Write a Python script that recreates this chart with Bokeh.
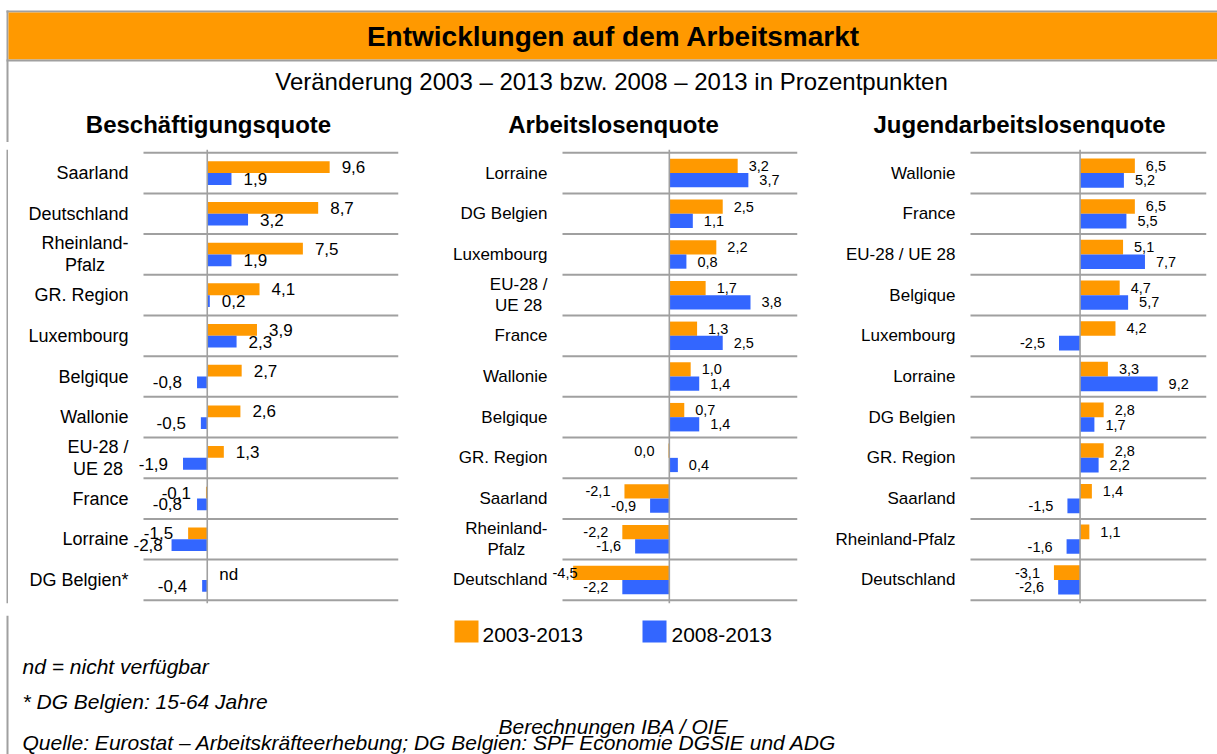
from bokeh.plotting import figure
from bokeh.layouts import row, column
from bokeh.models import Range1d, FactorRange, ColumnDataSource, Span
from bokeh.transform import dodge
from bokeh.core.properties import value
from bokeh.embed import file_html
from bokeh.resources import INLINE

# ---------------- data ----------------
title = "Entwicklungen auf dem Arbeitsmarkt"
subtitle = "Veränderung 2003 – 2013 bzw. 2008 – 2013 in Prozentpunkten"
series_names = ["2003-2013", "2008-2013"]
panel_titles = ["Beschäftigungsquote", "Arbeitslosenquote", "Jugendarbeitslosenquote"]

besch_cats = ["Saarland", "Deutschland", "Rheinland-\nPfalz", "GR. Region", "Luxembourg",
              "Belgique", "Wallonie", "EU-28 /\nUE 28", "France", "Lorraine", "DG Belgien*"]
besch_0313 = [9.6, 8.7, 7.5, 4.1, 3.9, 2.7, 2.6, 1.3, -0.1, -1.5, None]
besch_0813 = [1.9, 3.2, 1.9, 0.2, 2.3, -0.8, -0.5, -1.9, -0.8, -2.8, -0.4]

alq_cats = ["Lorraine", "DG Belgien", "Luxembourg", "EU-28 /\nUE 28", "France", "Wallonie",
            "Belgique", "GR. Region", "Saarland", "Rheinland-\nPfalz", "Deutschland"]
alq_0313 = [3.2, 2.5, 2.2, 1.7, 1.3, 1.0, 0.7, -0.04, -2.1, -2.2, -4.5]
alq_0813 = [3.7, 1.1, 0.8, 3.8, 2.5, 1.4, 1.4, 0.4, -0.9, -1.6, -2.2]

jalq_cats = ["Wallonie", "France", "EU-28 / UE 28", "Belgique", "Luxembourg", "Lorraine",
             "DG Belgien", "GR. Region", "Saarland", "Rheinland-Pfalz", "Deutschland"]
jalq_0313 = [6.5, 6.5, 5.1, 4.7, 4.2, 3.3, 2.8, 2.8, 1.4, 1.1, -3.1]
jalq_0813 = [5.2, 5.5, 7.7, 5.7, -2.5, 9.2, 1.7, 2.2, -1.5, -1.6, -2.6]

notes = ["nd = nicht verfügbar", "* DG Belgien: 15-64 Jahre"]
credit = "Berechnungen IBA / OIE"
source_note = "Quelle: Eurostat – Arbeitskräfteerhebung; DG Belgien: SPF Economie DGSIE und ADG"

# ---------------- style ----------------
FONT = value("Liberation Sans")
ORANGE = "#FF9900"
BLUE = "#3366FF"
GRID = "#a0a0a0"
W = 1217
HH, PH, FH = 142, 473, 139   # header 0-142, panels 142-615, footer 615-754
CHAR_EM = {",": 0.278, "-": 0.333}


def fmt(v):
    if v is None:
        return "nd"
    s = f"{v:.1f}".replace(".", ",")
    return "0,0" if s == "-0,0" else s


def text_px(s, fs):
    return sum(CHAR_EM.get(ch, 0.556) for ch in s) * fs


def no_title(p):
    try:
        p.title = None
    except Exception:
        p.title.visible = False
    return p


def deco_fig(w, h, y0):
    p = figure(width=w, height=h, x_range=Range1d(0, w), y_range=Range1d(y0 + h, y0),
               x_axis_location=None, y_axis_location=None,
               toolbar_location=None, output_backend="svg", min_border=0,
               outline_line_color=None, background_fill_color="white",
               border_fill_color="white")
    p.grid.visible = False
    return no_title(p)


def panel(cats, a, b, xr, width, label_px, right_px, top_px, bottom_px, bar_h,
          cat_fs, val_fs, pos_off, neg_off):
    factors = list(reversed(cats))
    plot_px = width - label_px - right_px
    scale = plot_px / (xr[1] - xr[0])
    x_lo = xr[0] - label_px / scale          # room for the category labels
    p = figure(width=width, height=PH,
               y_range=FactorRange(factors=factors, range_padding=0.08,
                                   range_padding_units="absolute"),
               x_range=Range1d(x_lo, xr[1]), x_axis_location=None, y_axis_location=None,
               toolbar_location=None, output_backend="svg", min_border=0,
               min_border_left=0, min_border_right=right_px, min_border_top=top_px,
               min_border_bottom=bottom_px, outline_line_color=None,
               background_fill_color="white", border_fill_color="white")
    p.grid.visible = False
    no_title(p)

    n = len(cats)
    p.segment(x0=[xr[0]] * (n + 1), x1=[xr[1]] * (n + 1), y0=list(range(n + 1)),
              y1=list(range(n + 1)), line_color=GRID, line_width=2)

    # category labels (right-anchored block, lines centred)
    p.text(x=[xr[0]] * n, y=cats, text=cats, x_offset=-15, anchor="center_right",
           text_align="center", text_baseline="middle", text_font=FONT,
           text_font_size=cat_fs, text_color="#000000", text_line_height=1.1)

    fs = float(val_fs.replace("px", ""))
    for vals, off, color in ((a, bar_h / 2, ORANGE), (b, -bar_h / 2, BLUE)):
        bars = ColumnDataSource(dict(cat=[c for c, v in zip(cats, vals) if v is not None],
                                     v=[v for v in vals if v is not None]))
        p.hbar(y=dodge("cat", off, range=p.y_range), left=0, right="v", height=bar_h,
               source=bars, fill_color=color, line_color=None)
        pos = ColumnDataSource(dict(cat=[c for c, v in zip(cats, vals) if v is None or v > 0],
                                    x=[0 if v is None else v for v in vals if v is None or v > 0],
                                    t=[fmt(v) for v in vals if v is None or v > 0]))
        neg_cat, neg_x, neg_t, neg_dx = [], [], [], []
        for c, v in zip(cats, vals):
            if v is None or v > 0:
                continue
            t = fmt(v)
            bar_px = (v - xr[0]) * scale
            right_edge = bar_px + neg_off
            if right_edge - text_px(t, fs) < -10:          # keep label inside chart area
                right_edge = -10 + text_px(t, fs)
            neg_cat.append(c)
            neg_x.append(v)
            neg_t.append(t)
            neg_dx.append(right_edge - bar_px)
        neg = ColumnDataSource(dict(cat=neg_cat, x=neg_x, t=neg_t, dx=neg_dx))
        p.text(x="x", y=dodge("cat", off, range=p.y_range), text="t", source=pos,
               x_offset=pos_off, text_align="left", text_baseline="middle",
               text_font=FONT, text_font_size=val_fs, text_color="#000000")
        p.text(x="x", y=dodge("cat", off, range=p.y_range), text="t", source=neg,
               x_offset="dx", text_align="right", text_baseline="middle",
               text_font=FONT, text_font_size=val_fs, text_color="#000000")

    p.add_layout(Span(location=0, dimension="height", line_color=GRID, line_width=1.6))
    return p


# ---------------- header (page coordinates) ----------------
hd = deco_fig(W, HH, 0)
hd.quad(left=[6], right=[8], top=[10], bottom=[HH], fill_color=GRID, line_color=None)
hd.quad(left=[6], right=[W], top=[10], bottom=[12], fill_color=GRID, line_color=None)
hd.quad(left=[8], right=[W], top=[12], bottom=[59], fill_color=ORANGE, line_color=None)
hd.quad(left=[6], right=[W], top=[59], bottom=[61], fill_color=GRID, line_color=None)
hd.text(x=[613], y=[36], text=[title], text_font=FONT, text_font_style="bold",
        text_font_size="28px", text_align="center", text_baseline="middle", text_color="#000000")
hd.text(x=[611], y=[81], text=[subtitle], text_font=FONT, text_font_size="24px",
        text_align="center", text_baseline="middle", text_color="#000000")
hd.text(x=[208, 613, 1019], y=[124, 124, 124], text=panel_titles, text_font=FONT,
        text_font_style="bold", text_font_size="24px", text_align="center",
        text_baseline="middle", text_color="#000000")

# ---------------- panels ----------------
edge = figure(width=8, height=PH, x_range=Range1d(0, 8), y_range=Range1d(0, 1),
              x_axis_location=None, y_axis_location=None, toolbar_location=None,
              output_backend="svg", min_border=0, outline_line_color=None,
              background_fill_color="white", border_fill_color="white")
edge.grid.visible = False
no_title(edge)
edge.quad(left=[6], right=[8], bottom=[0], top=[1], fill_color=GRID, line_color=None)

p1 = panel(besch_cats, besch_0313, besch_0813, (-5, 15), 412, 135, 22, 1, 8, 0.29,
           "18px", "17px", 12, -15)
p2 = panel(alq_cats, alq_0313, alq_0813, (-5, 6), 410, 142, 33, 7, 12, 0.35,
           "17px", "14.5px", 11, -14)
p3 = panel(jalq_cats, jalq_0313, jalq_0813, (-13, 15), 387, 140, 11, 4, 11, 0.36,
           "17px", "14.5px", 11, -14)

# ---------------- footer (page coordinates) ----------------
ft = deco_fig(W, FH, 615)
ft.quad(left=[6], right=[8], top=[615], bottom=[754], fill_color=GRID, line_color=None)
ft.quad(left=[454, 642], right=[478, 666], top=[620, 620], bottom=[642, 642],
        fill_color=[ORANGE, BLUE], line_color=None)
ft.text(x=[482, 671], y=[634, 634], text=series_names, text_font=FONT, text_font_size="21px",
        text_align="left", text_baseline="middle", text_color="#000000")
ft.text(x=[22, 22], y=[666, 701], text=notes, text_font=FONT, text_font_style="italic",
        text_font_size="21px", text_align="left", text_baseline="middle", text_color="#000000")
ft.text(x=[613], y=[726], text=[credit], text_font=FONT, text_font_style="italic",
        text_font_size="21px", text_align="center", text_baseline="middle", text_color="#000000")
ft.text(x=[22], y=[742], text=[source_note], text_font=FONT, text_font_style="italic",
        text_font_size="21px", text_align="left", text_baseline="middle", text_color="#000000")

layout = column(hd, row(edge, p1, p2, p3), ft)
open("out.html", "w").write(file_html(layout, INLINE))
